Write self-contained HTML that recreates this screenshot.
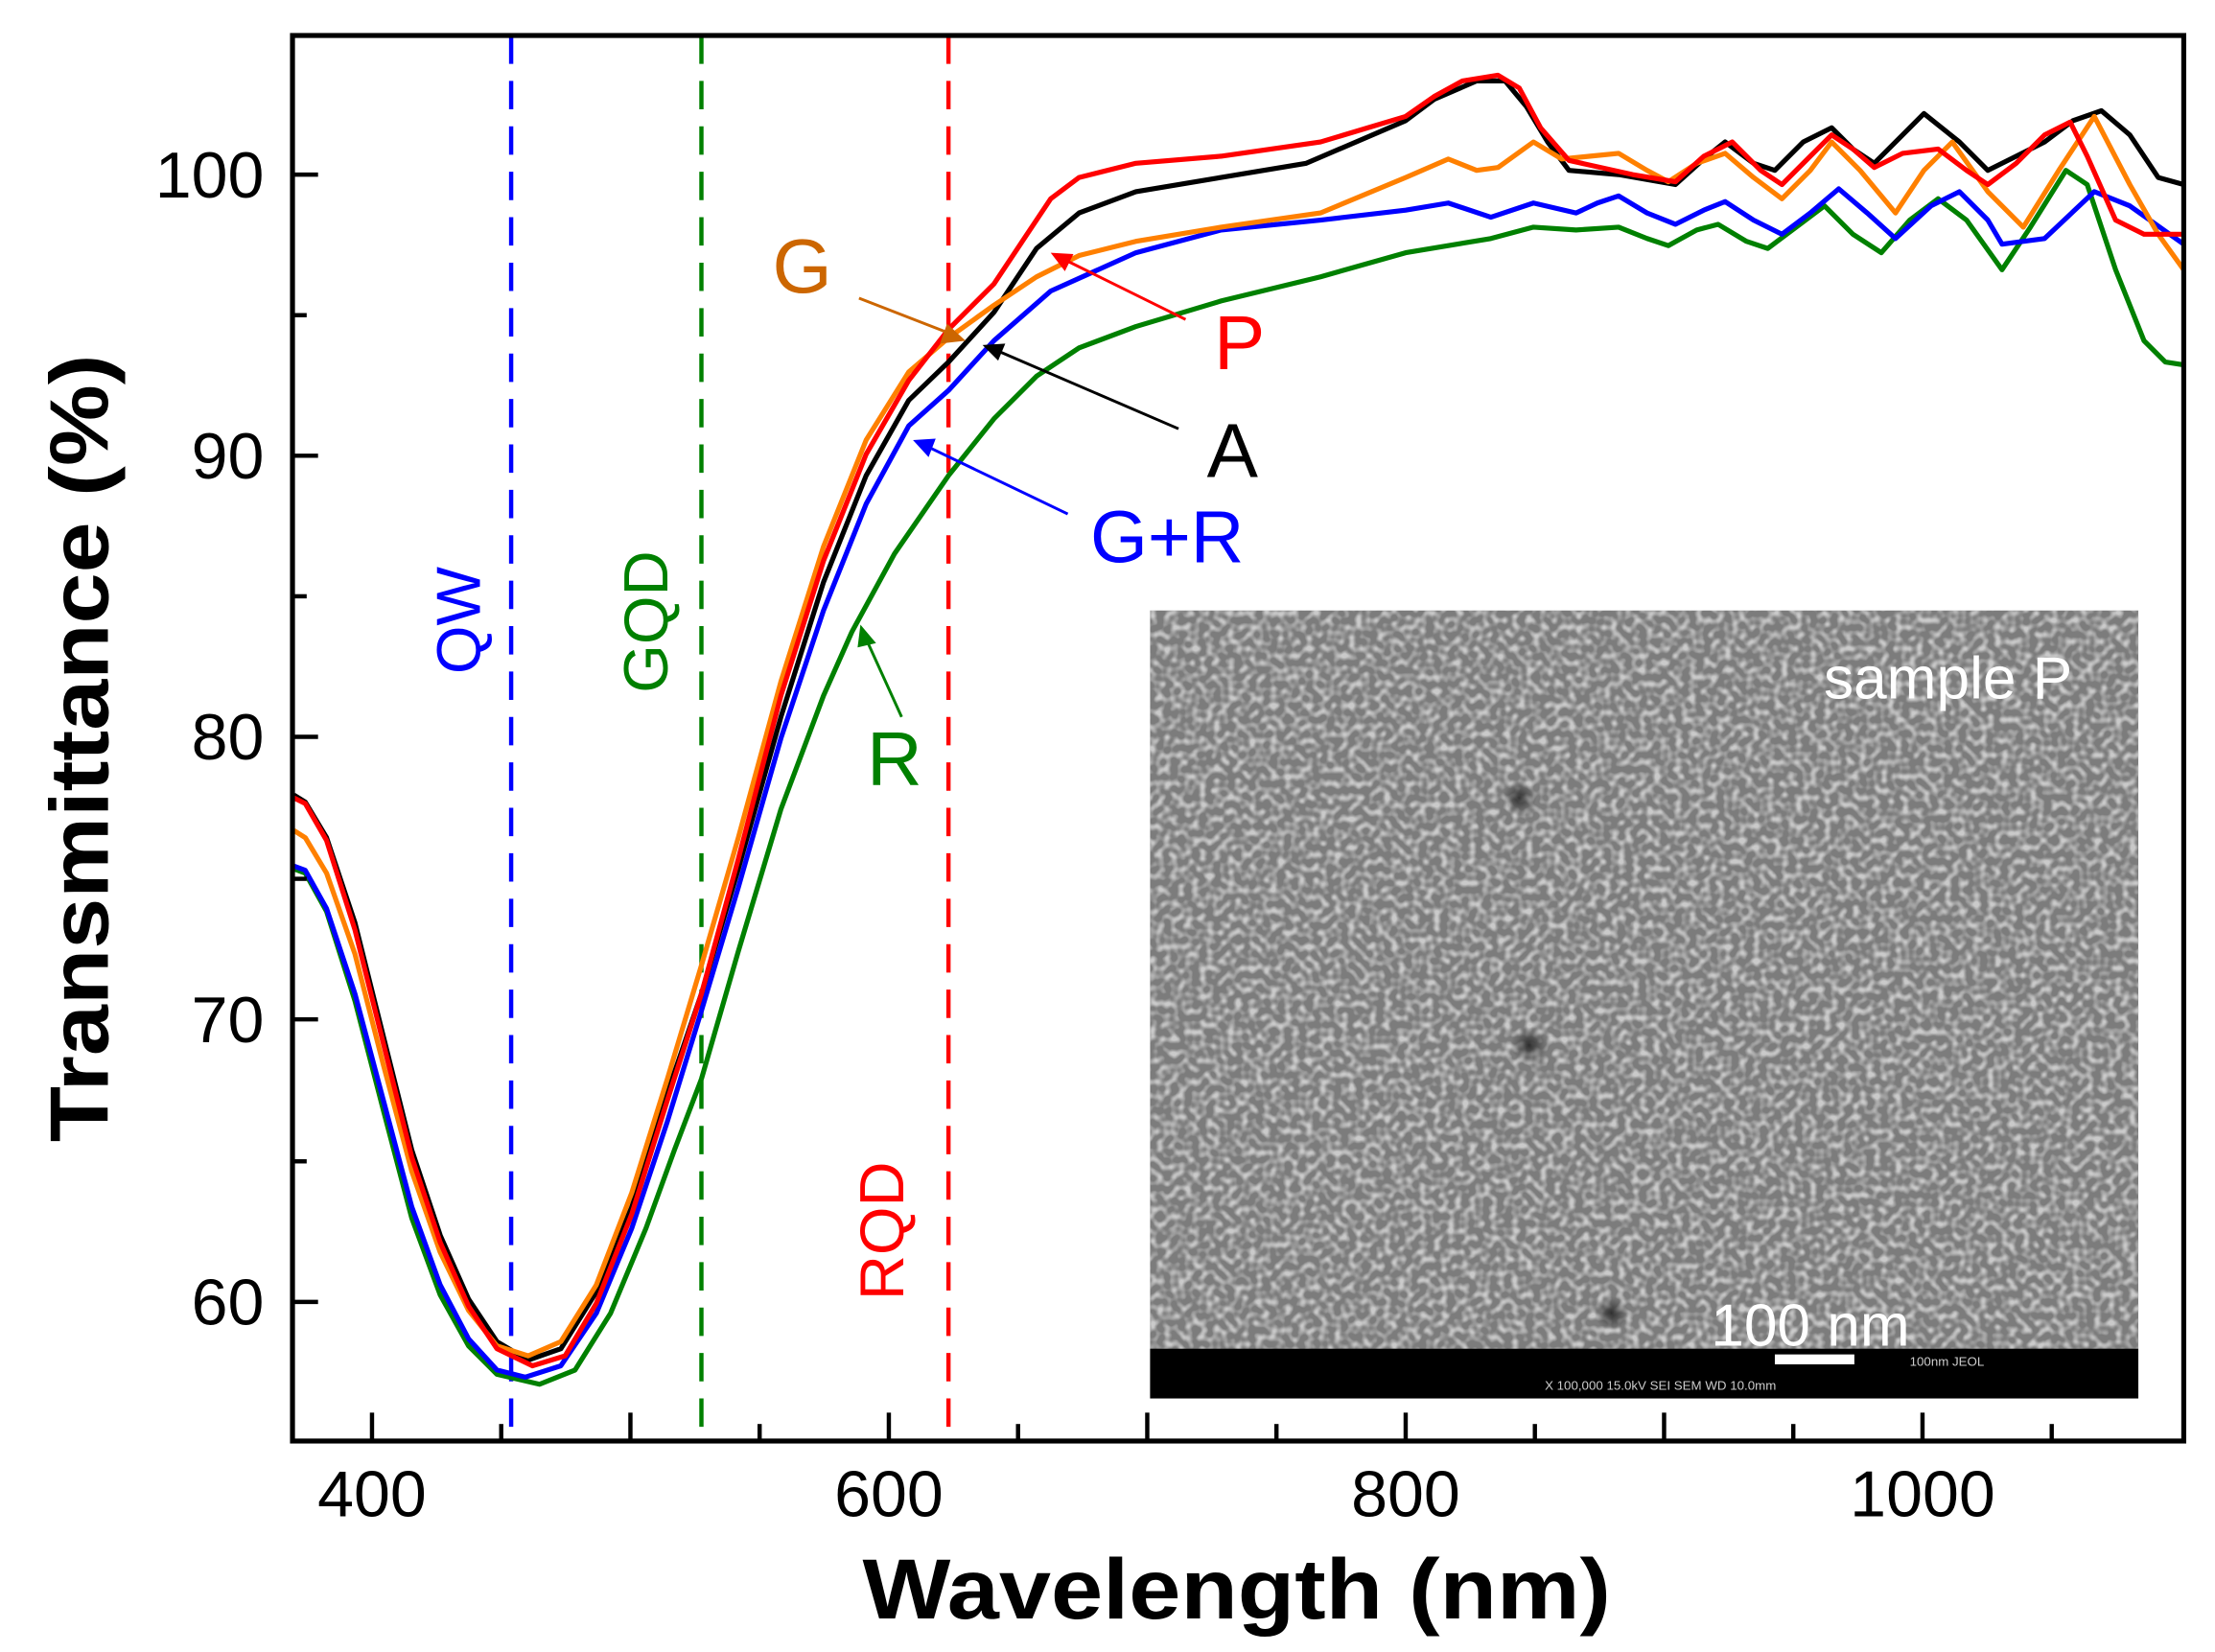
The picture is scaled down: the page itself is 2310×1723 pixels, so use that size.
<!DOCTYPE html>
<html><head><meta charset="utf-8"><style>
html,body{margin:0;padding:0;background:#fff;}
svg{display:block;}
text{font-family:"Liberation Sans",Arial,sans-serif;}
</style></head><body>
<svg width="2310" height="1723" viewBox="0 0 1560 1163.6" preserveAspectRatio="none" xmlns="http://www.w3.org/2000/svg">
<defs>
<filter id="sem" x="0" y="0" width="1" height="1">
<feTurbulence type="fractalNoise" baseFrequency="0.2" numOctaves="1" seed="5" result="n"/>
<feColorMatrix in="n" type="matrix" values="0 0 0 0 0  0 0 0 0 0  0 0 0 0 0  3.2 0 0 0 -1.35" result="a"/>
<feFlood flood-color="#d8d8d8"/>
<feComposite in2="a" operator="in"/>
</filter>
<radialGradient id="dk"><stop offset="0" stop-color="#222" stop-opacity="0.9"/><stop offset="1" stop-color="#333" stop-opacity="0"/></radialGradient>
</defs>
<rect width="1560" height="1164" fill="#fff"/>

<!-- inset -->
<rect x="810" y="430" width="696" height="555" fill="#7c7c7c"/>
<rect x="810" y="430" width="696" height="520" filter="url(#sem)" opacity="0.85"/>
<circle cx="1070" cy="562" r="12" fill="url(#dk)"/>
<circle cx="1077" cy="736" r="13" fill="url(#dk)"/>
<circle cx="1135" cy="925" r="12" fill="url(#dk)"/>
<rect x="810" y="950" width="696" height="35" fill="#000"/>
<rect x="1250" y="954" width="56" height="7" fill="#fff"/>
<text x="1372" y="492" font-size="42" fill="#fff" text-anchor="middle">sample  P</text>
<text x="1275" y="948" font-size="42" fill="#fff" text-anchor="middle">100 nm</text>
<text x="1345" y="962" font-size="9" fill="#ccc" font-family="Liberation Mono">100nm JEOL</text>
<text x="1088" y="979" font-size="9" fill="#ccc" font-family="Liberation Mono">X 100,000    15.0kV SEI    SEM    WD 10.0mm</text>

<!-- dashed lines -->
<g stroke-width="3" stroke-dasharray="20,12" fill="none">
<line x1="360" y1="25" x2="360" y2="1015" stroke="#0000ff"/>
<line x1="494" y1="25" x2="494" y2="1015" stroke="#008000"/>
<line x1="668" y1="25" x2="668" y2="1015" stroke="#ff0000"/>
</g>
<text transform="translate(338,437) rotate(-90)" font-size="44" fill="#0000ff" text-anchor="middle">QW</text>
<text transform="translate(470,438) rotate(-90)" font-size="44" fill="#008000" text-anchor="middle">GQD</text>
<text transform="translate(636,867) rotate(-90)" font-size="44" fill="#ff0000" text-anchor="middle">RQD</text>

<!-- curves -->
<g fill="none" stroke-width="3.5" stroke-linejoin="round">
<polyline stroke="#008000" points="207,612 215,615 230,642 250,705 270,782 290,858 310,912 330,948 350,968 380,975 405,965 430,925 455,865 475,810 494,760 520,670 550,570 580,490 600,445 630,390 668,335 700,295 730,265 760,245 800,230 860,212 930,195 990,178 1050,168 1080,160 1110,162 1140,160 1160,168 1175,173 1195,162 1210,158 1230,170 1245,175 1265,160 1285,145 1305,165 1325,178 1345,155 1365,140 1385,155 1410,190 1430,160 1455,120 1470,130 1490,190 1510,240 1525,255 1538,257"/>
<polyline stroke="#0000ff" points="207,610 215,613 230,640 250,700 270,775 290,850 310,905 330,943 350,965 370,970 395,962 420,925 445,865 470,790 494,712 520,625 550,520 580,430 610,355 640,300 668,275 700,240 740,205 800,178 860,162 930,155 990,148 1020,143 1050,153 1080,143 1110,150 1125,143 1140,138 1160,150 1180,158 1200,148 1215,142 1235,155 1255,165 1275,150 1295,133 1315,150 1335,168 1360,145 1380,135 1400,155 1410,172 1440,168 1475,135 1500,145 1538,172"/>
<polyline stroke="#000000" points="207,560 215,565 230,590 250,650 270,730 290,810 310,870 330,915 350,945 372,958 395,950 420,910 445,850 470,770 494,700 520,612 550,505 580,410 610,335 640,282 668,255 700,220 730,175 760,150 800,135 860,125 920,115 990,85 1010,70 1040,57 1060,57 1075,75 1090,100 1105,120 1140,123 1180,130 1200,112 1215,100 1235,115 1250,120 1270,100 1290,90 1305,105 1320,115 1340,95 1355,80 1380,100 1400,120 1420,110 1440,100 1460,85 1480,78 1500,95 1520,125 1538,130"/>
<polyline stroke="#ff8000" points="207,585 215,590 230,615 250,672 270,750 290,825 310,882 330,923 350,948 372,955 395,945 420,905 445,840 470,760 494,680 520,590 550,480 580,385 610,310 640,262 668,238 700,215 730,195 760,180 800,170 860,160 930,150 990,125 1020,112 1040,120 1055,118 1080,100 1100,112 1120,110 1140,108 1160,120 1175,128 1195,115 1215,108 1235,125 1255,140 1275,120 1290,100 1310,120 1335,150 1355,120 1375,100 1400,135 1425,160 1450,120 1475,82 1500,130 1520,165 1538,190"/>
<polyline stroke="#ff0000" points="207,562 215,566 230,592 250,655 270,735 290,815 310,875 330,920 350,950 375,962 398,955 420,918 445,855 470,775 494,700 520,605 550,490 580,395 610,320 640,268 668,232 700,200 720,170 740,140 760,125 800,115 860,110 930,100 990,82 1010,68 1030,57 1055,53 1070,62 1085,90 1105,113 1150,123 1180,128 1200,110 1220,100 1240,120 1255,130 1275,110 1290,95 1305,105 1320,118 1340,108 1365,105 1385,120 1400,130 1420,115 1440,95 1458,86 1470,110 1490,155 1510,165 1538,165"/>
</g>

<!-- annotations -->
<g stroke-width="2" fill="none">
<line x1="605" y1="210" x2="672" y2="236" stroke="#cc6600"/>
<line x1="835" y1="225" x2="748" y2="182" stroke="#ff0000"/>
<line x1="830" y1="302" x2="700" y2="246" stroke="#000"/>
<line x1="752" y1="362" x2="652" y2="314" stroke="#0000ff"/>
<line x1="635" y1="505" x2="610" y2="450" stroke="#008000"/>
</g>
<polygon points="680,240 662,242 667,228" fill="#cc6600"/>
<polygon points="740,178 756,179 750,191" fill="#ff0000"/>
<polygon points="692,243 708,242 703,254" fill="#000"/>
<polygon points="643,310 659,309 654,322" fill="#0000ff"/>
<polygon points="606,440 617,453 604,456" fill="#008000"/>
<text x="565" y="206" font-size="54" fill="#cc6600" text-anchor="middle">G</text>
<text x="873" y="260" font-size="54" fill="#ff0000" text-anchor="middle">P</text>
<text x="868" y="336" font-size="54" fill="#000" text-anchor="middle">A</text>
<text x="822" y="396" font-size="52" fill="#0000ff" text-anchor="middle">G+R</text>
<text x="630" y="553" font-size="54" fill="#008000" text-anchor="middle">R</text>

<!-- frame -->
<rect x="206" y="25" width="1332" height="990" fill="none" stroke="#000" stroke-width="3.5"/>
<g stroke="#000" stroke-width="3">
<line x1="262" y1="1015" x2="262" y2="995"/><line x1="353" y1="1015" x2="353" y2="1003"/>
<line x1="444" y1="1015" x2="444" y2="995"/><line x1="535" y1="1015" x2="535" y2="1003"/>
<line x1="626" y1="1015" x2="626" y2="995"/><line x1="717" y1="1015" x2="717" y2="1003"/>
<line x1="808" y1="1015" x2="808" y2="995"/><line x1="899" y1="1015" x2="899" y2="1003"/>
<line x1="990" y1="1015" x2="990" y2="995"/><line x1="1081" y1="1015" x2="1081" y2="1003"/>
<line x1="1172" y1="1015" x2="1172" y2="995"/><line x1="1263" y1="1015" x2="1263" y2="1003"/>
<line x1="1354" y1="1015" x2="1354" y2="995"/><line x1="1445" y1="1015" x2="1445" y2="1003"/>
<line x1="206" y1="123" x2="224" y2="123"/><line x1="206" y1="222" x2="216" y2="222"/>
<line x1="206" y1="321" x2="224" y2="321"/><line x1="206" y1="420" x2="216" y2="420"/>
<line x1="206" y1="519" x2="224" y2="519"/><line x1="206" y1="619" x2="216" y2="619"/>
<line x1="206" y1="718" x2="224" y2="718"/><line x1="206" y1="818" x2="216" y2="818"/>
<line x1="206" y1="917" x2="224" y2="917"/>
</g>
<g font-size="46" fill="#000">
<text x="262" y="1068" text-anchor="middle">400</text>
<text x="626" y="1068" text-anchor="middle">600</text>
<text x="990" y="1068" text-anchor="middle">800</text>
<text x="1354" y="1068" text-anchor="middle">1000</text>
<text x="186" y="139" text-anchor="end">100</text>
<text x="186" y="337" text-anchor="end">90</text>
<text x="186" y="535" text-anchor="end">80</text>
<text x="186" y="734" text-anchor="end">70</text>
<text x="186" y="933" text-anchor="end">60</text>
</g>
<text x="871" y="1140" font-size="60" font-weight="bold" text-anchor="middle" textLength="527" lengthAdjust="spacingAndGlyphs">Wavelength (nm)</text>
<text transform="translate(76,527) rotate(-90)" font-size="58" font-weight="bold" text-anchor="middle" textLength="555" lengthAdjust="spacingAndGlyphs">Transmittance (%)</text>
</svg>
</body></html>
